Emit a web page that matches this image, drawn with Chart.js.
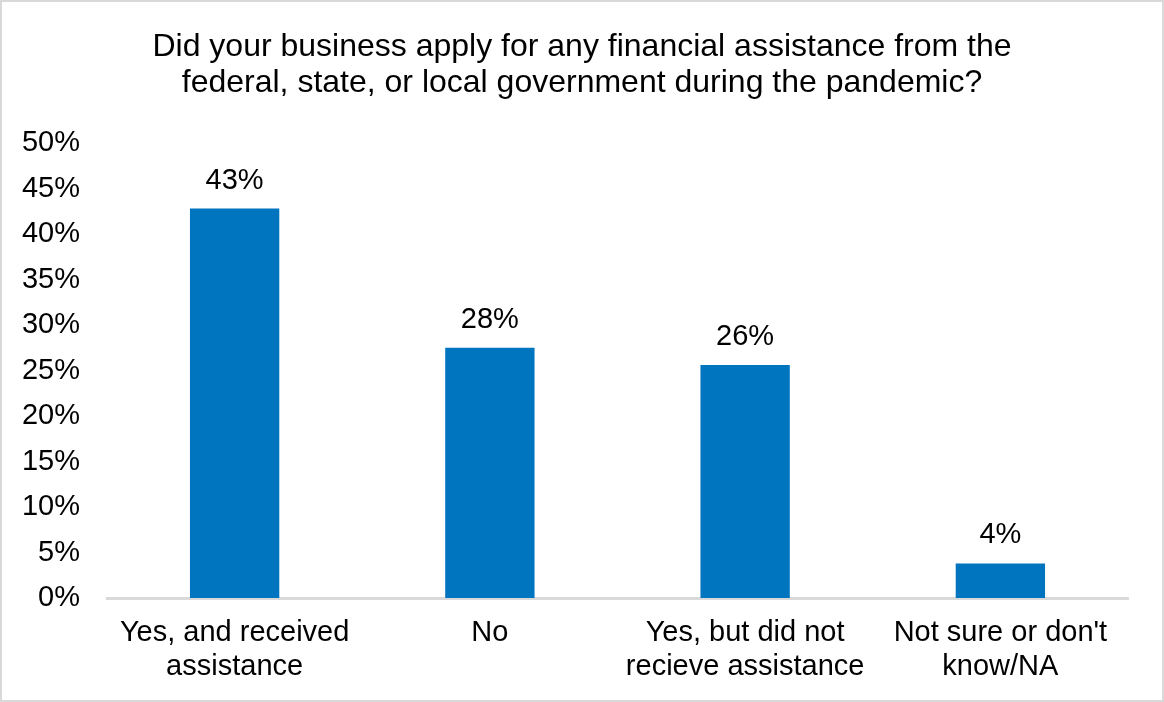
<!DOCTYPE html>
<html>
<head>
<meta charset="utf-8">
<script src="https://cdn.jsdelivr.net/npm/chart.js@4"></script>
<style>
  html, body { margin: 0; padding: 0; background: #fff; }
  #wrap { position: absolute; left: 0; top: 0; width: 1164px; height: 702px; box-sizing: border-box; border: 2px solid #d9d9d9; }
  #chart { position: absolute; left: 0; top: 0; }
</style>
</head>
<body>
<div id="wrap"></div>
<canvas id="chart" width="1164" height="702"></canvas>
<script>
// dados
const categories = [
    ['Yes, and received', 'assistance'],
    ['No'],
    ['Yes, but did not', 'recieve assistance'],
    ["Not sure or don't", 'know/NA']
];
const shares = [42.8, 27.5, 25.6, 3.8];
const yTicks = [0, 5, 10, 15, 20, 25, 30, 35, 40, 45, 50];
const titleLines = [
    'Did your business apply for any financial assistance from the',
    'federal, state, or local government during the pandemic?'
];

const FONT = "'Liberation Sans', Arial, sans-serif";
const BAR_BLUE = '#0075BF';
const LABEL_SIZE = 29;

// plugin simples para escrever o valor acima de cada barra
const barValueLabels = {
    id: 'barValueLabels',
    afterDatasetsDraw(chart) {
        const ctx = chart.ctx;
        const meta = chart.getDatasetMeta(0);
        ctx.save();
        ctx.font = `${LABEL_SIZE}px ${FONT}`;
        ctx.fillStyle = '#000';
        ctx.textAlign = 'center';
        ctx.textBaseline = 'middle';
        meta.data.forEach((bar, i) => {
            ctx.fillText(`${Math.round(shares[i])}%`, bar.x, bar.y - 28);
        });
        ctx.restore();
    }
};

Chart.defaults.font.family = FONT;
Chart.defaults.color = '#000';

new Chart(document.getElementById('chart').getContext('2d'), {
    type: 'bar',
    data: {
        labels: categories,
        datasets: [{
            data: shares,
            backgroundColor: BAR_BLUE,
            borderWidth: 0,
            categoryPercentage: 1,
            barPercentage: 0.35
        }]
    },
    options: {
        responsive: false,
        animation: false,
        layout: { padding: 0 },
        plugins: {
            legend: { display: false },
            tooltip: { enabled: false },
            title: {
                display: true,
                text: titleLines,
                color: '#000',
                font: { size: 32, weight: 'normal', lineHeight: 1.125 },
                padding: { top: 29, bottom: 42 }
            }
        },
        scales: {
            x: {
                grid: { display: false, drawTicks: false },
                border: { display: true, color: '#d9d9d9', width: 3 },
                ticks: {
                    color: '#000',
                    font: { size: LABEL_SIZE, lineHeight: 1.17 },
                    padding: 18,
                    maxRotation: 0,
                    autoSkip: false
                },
                afterFit(scale) { scale.height = 104; }
            },
            y: {
                min: 0,
                max: 50,
                afterBuildTicks(scale) { scale.ticks = yTicks.map(v => ({ value: v })); },
                grid: { display: false, drawTicks: false },
                border: { display: false },
                ticks: {
                    color: '#000',
                    font: { size: LABEL_SIZE },
                    padding: 27,
                    callback: v => `${v}%`
                },
                afterFit(scale) { scale.width = 107; }
            },
            // eixo vazio só para deixar a margem direita (o título fica centrado na página)
            gap: {
                position: 'right',
                grid: { display: false, drawTicks: false },
                border: { display: false },
                ticks: { display: false },
                afterFit(scale) { scale.width = 36; }
            }
        }
    },
    plugins: [barValueLabels]
});
</script>
</body>
</html>
